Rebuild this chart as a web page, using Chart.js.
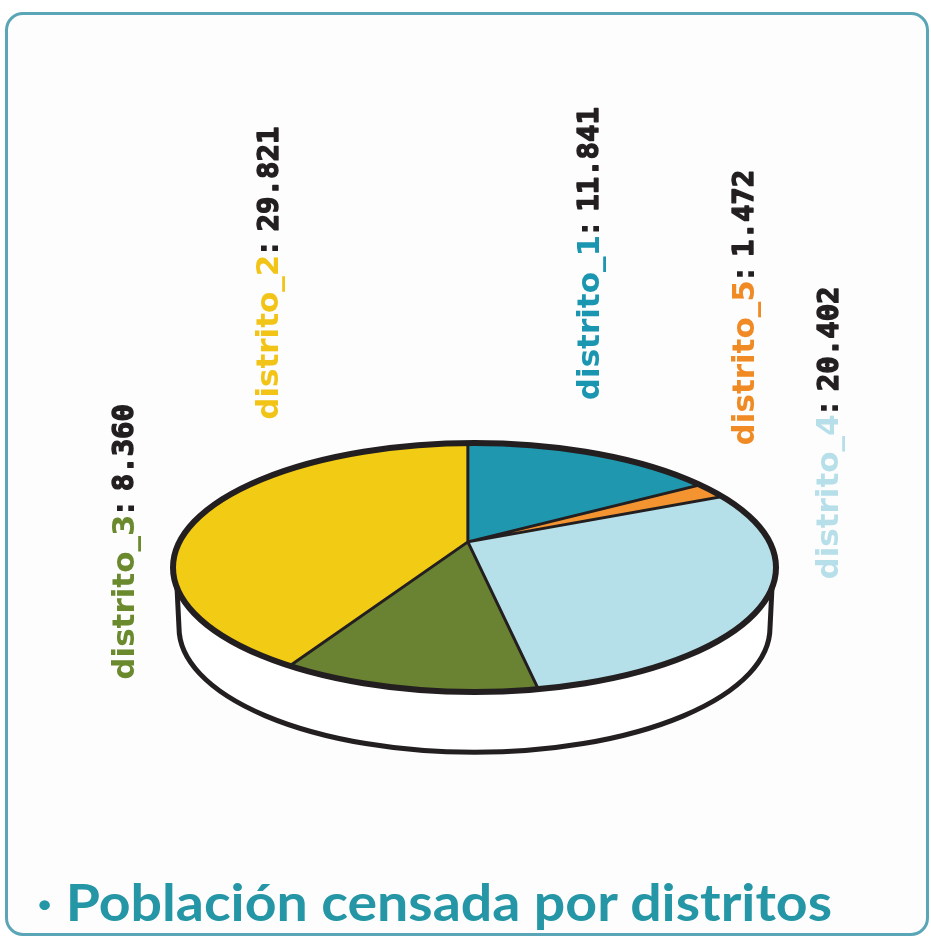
<!DOCTYPE html>
<html>
<head>
<meta charset="utf-8">
<script src="https://cdn.jsdelivr.net/npm/chart.js@4.4.1/dist/chart.umd.min.js"></script>
<style>
html,body{margin:0;padding:0;background:#ffffff;width:931px;height:937px;overflow:hidden;}
#frame{position:absolute;left:5px;top:12px;width:924px;height:924px;box-sizing:border-box;border:3px solid #5ba6b6;border-radius:18px;background:#fdfdfd;}
#c{position:absolute;left:0;top:0;}
#title{position:absolute;left:37px;top:876px;font-family:Lato,"Open Sans",sans-serif;font-weight:700;font-size:51px;line-height:51px;color:#2596a5;white-space:nowrap;transform-origin:0 0;}
</style>
</head>
<body>
<div id="frame"></div>
<canvas id="c" width="931" height="937"></canvas>
<div id="title">· Población censada por distritos</div>
<script>
// ---- data (clockwise from the top of the pie) ----
const categories = ['distrito_1', 'distrito_5', 'distrito_4', 'distrito_3', 'distrito_2'];
const values = [11841, 1472, 20402, 8360, 29821];
const valueLabels = ['11.841', '1.472', '20.402', '8.360', '29.821'];
const sliceColors = ['#1f97af', '#f39431', '#b6e0e9', '#6a8333', '#f2cb15'];
const labelColors = ['#1b96b1', '#f08a24', '#b6dfe9', '#6b8a2e', '#f2c418'];

// label anchors, in units of the pie radius relative to the pie centre
const labelAnchors = [[0.385, -0.555], [0.9, -0.405], [1.18, 0.04], [-1.157, 0.372], [-0.677, -0.49]];

const TILT = 0.413;     // vertical squash of the pie
const DEPTH = 0.2;      // rim depth relative to radius
const APEX = [-0.022, -0.085]; // perspective shift of the slice apex (units of radius)
const REACH = 1.25;     // slice overdraw so the clipped sectors fill the top ellipse
const INK = '#231f20';
const NAME_FONT = 'bold 31px "DejaVu Sans", Verdana, sans-serif';
const VALUE_FONT = 'bold 29px "DejaVu Sans Mono", monospace';

function topEllipse(ctx, x, y, R) {
  ctx.beginPath();
  ctx.ellipse(x, y, R, R * TILT, 0, 0, Math.PI * 2);
}
function apexTransform(ctx, x, y, R) {
  ctx.translate(x + APEX[0] * R, y + APEX[1] * R);
  ctx.scale(REACH, REACH * TILT);
  ctx.translate(-x, -y);
}

const pie3d = {
  id: 'pie3d',
  beforeDatasetsDraw(chart) {
    const a0 = chart.getDatasetMeta(0).data[0];
    const x = a0.x, y = a0.y, R = a0.outerRadius;
    const ry = R * TILT, d = R * DEPTH;
    const ctx = chart.ctx;
    ctx.save();
    ctx.beginPath();
    ctx.moveTo(x - R, y);
    ctx.lineTo(x - R, y + d);
    ctx.ellipse(x, y + d, R, ry, 0, Math.PI, 0, true);
    ctx.lineTo(x + R, y);
    ctx.ellipse(x, y, R, ry, 0, 0, Math.PI, false);
    ctx.closePath();
    ctx.fillStyle = '#ffffff';
    ctx.fill();
    ctx.beginPath();
    ctx.moveTo(x - R + 3, y);
    ctx.lineTo(x - R + 6, y + d);
    ctx.ellipse(x, y + d, R - 6, ry, 0, Math.PI, 0, true);
    ctx.lineTo(x + R - 3, y);
    ctx.lineWidth = 5;
    ctx.strokeStyle = INK;
    ctx.lineJoin = 'round';
    ctx.stroke();
    ctx.restore();
    ctx.save();
    topEllipse(ctx, x, y, R);
    ctx.clip();
    apexTransform(ctx, x, y, R);
  },
  afterDatasetsDraw(chart) {
    const ctx = chart.ctx;
    ctx.restore();
    const arcs = chart.getDatasetMeta(0).data;
    const x = arcs[0].x, y = arcs[0].y, R = arcs[0].outerRadius;
    ctx.save();
    topEllipse(ctx, x, y, R);
    ctx.clip();
    ctx.save();
    apexTransform(ctx, x, y, R);
    ctx.beginPath();
    arcs.forEach(a => {
      ctx.moveTo(a.x, a.y);
      ctx.lineTo(a.x + a.outerRadius * Math.cos(a.startAngle), a.y + a.outerRadius * Math.sin(a.startAngle));
    });
    ctx.restore();
    ctx.strokeStyle = INK;
    ctx.lineCap = 'round';
    ctx.lineWidth = 3;
    ctx.stroke();
    ctx.restore();
    ctx.save();
    topEllipse(ctx, x, y, R);
    ctx.strokeStyle = INK;
    ctx.lineWidth = 6;
    ctx.stroke();
    ctx.restore();
  },
  afterDraw(chart) {
    const arcs = chart.getDatasetMeta(0).data;
    const x = arcs[0].x, y = arcs[0].y, R = arcs[0].outerRadius;
    const ctx = chart.ctx;
    chart.data.labels.forEach((name, i) => {
      const px = x + labelAnchors[i][0] * R;
      const py = y + labelAnchors[i][1] * R;
      ctx.save();
      ctx.translate(px, py);
      ctx.rotate(-Math.PI / 2);
      ctx.textBaseline = 'middle';
      ctx.textAlign = 'left';
      ctx.font = NAME_FONT;
      ctx.fillStyle = labelColors[i];
      ctx.fillText(name, 0, 0);
      let w = ctx.measureText(name).width;
      ctx.fillStyle = INK;
      ctx.fillText(': ', w, 0);
      w += ctx.measureText(': ').width;
      ctx.font = VALUE_FONT;
      ctx.fillText(valueLabels[i], w, 0);
      ctx.lineWidth = 1.4;
      ctx.strokeStyle = INK;
      ctx.lineJoin = 'round';
      ctx.strokeText(valueLabels[i], w, 0);
      ctx.restore();
    });
  }
};

new Chart(document.getElementById('c'), {
  type: 'pie',
  data: {
    labels: categories,
    datasets: [{
      data: values,
      backgroundColor: sliceColors,
      borderWidth: 0,
      clip: false
    }]
  },
  options: {
    responsive: false,
    devicePixelRatio: 1,
    animation: false,
    events: [],
    layout: { padding: { left: 173, right: 155, top: 266, bottom: 68 } },
    plugins: { legend: { display: false }, tooltip: { enabled: false } }
  },
  plugins: [pie3d]
});

const t = document.getElementById('title');
const tw = t.getBoundingClientRect().width;
t.style.transform = 'scaleX(' + (795 / tw) + ')';
</script>
</body>
</html>
